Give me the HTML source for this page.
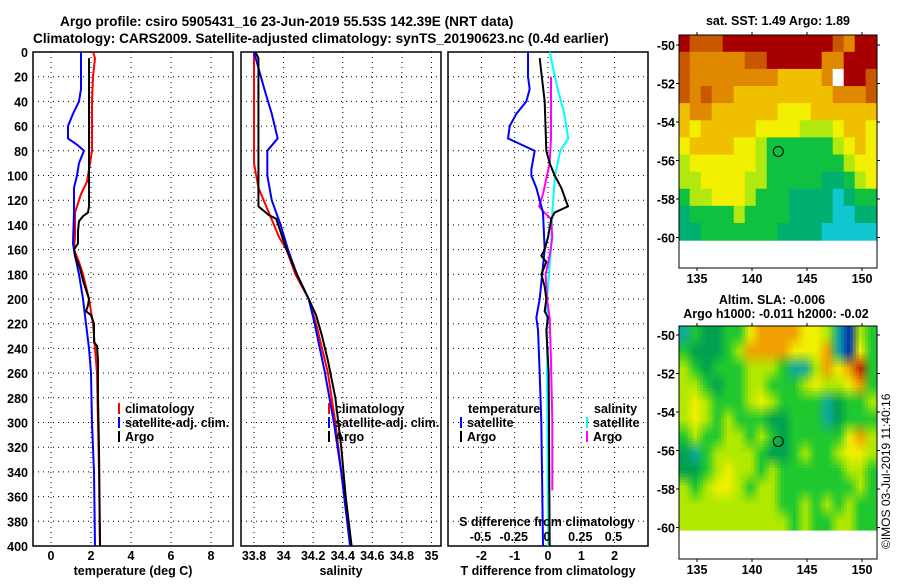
<!DOCTYPE html>
<html><head><meta charset="utf-8"><style>
body{margin:0;background:#fff;width:900px;height:580px;overflow:hidden}
svg text{font-family:"Liberation Sans",sans-serif;font-weight:bold;font-size:12.5px;fill:#000}
</style></head><body>
<svg id="c" width="900" height="580" xmlns="http://www.w3.org/2000/svg">
<text x="60" y="26" style="font-size:13.6px">Argo profile: csiro 5905431_16 23-Jun-2019 55.53S 142.39E (NRT data)</text>
<text x="33" y="43" style="font-size:13.6px">Climatology: CARS2009. Satellite-adjusted climatology: synTS_20190623.nc (0.4d earlier)</text>
<text x="778" y="25" text-anchor="middle">sat. SST: 1.49 Argo: 1.89</text>
<text x="772" y="304" text-anchor="middle">Altim. SLA: -0.006</text>
<text x="776" y="318" text-anchor="middle">Argo h1000: -0.011 h2000: -0.02</text>
<text transform="translate(890,549) rotate(-90)" style="font-weight:normal;font-size:12px">©IMOS 03-Jul-2019 11:40:16</text>
<g id="g"></g>
</svg>
<script>
// ---- data ----
const depthTicks=[0,20,40,60,80,100,120,140,160,180,200,220,240,260,280,300,320,340,360,380,400];
const tTicks=[0,2,4,6,8];
const sTicks=[33.8,34,34.2,34.4,34.6,34.8,35];
const tdTicks=[-2,-1,0,1,2];
const sdTicks=[-0.5,-0.25,0,0.25,0.5];
const tClimD=[0,5,20,40,80,95,105,115,130,150,160,170,180,200,220,240,260,300,340,400];
const tClimV=[2.1,2.2,2.1,2.05,2.05,1.9,1.8,1.5,1.2,1.2,1.15,1.4,1.6,1.9,2.1,2.2,2.3,2.35,2.4,2.45];
const tSatD=[0,30,40,50,60,70,75,80,90,100,110,130,155,165,180,200,220,240,260,300,340,400];
const tSatV=[1.5,1.5,1.4,1.1,0.85,0.85,1.3,1.65,1.4,1.3,1.15,1.15,1.1,1.2,1.4,1.6,1.75,1.9,2.0,2.05,2.15,2.2];
const tArgD=[5,125,130,133,137,145,155,160,165,175,185,195,200,205,210,213,220,235,238,250,280,320,400];
const tArgV=[1.9,1.9,1.85,1.6,1.4,1.35,1.35,1.15,1.2,1.45,1.6,1.8,1.9,1.85,1.75,2.0,2.15,2.15,2.3,2.35,2.35,2.4,2.45];
const sClimD=[0,90,110,130,150,160,180,200,220,260,300,340,400];
const sClimV=[33.80,33.80,33.83,33.9,33.97,34.02,34.08,34.17,34.22,34.3,34.35,34.39,34.45];
const sSatD=[0,30,50,70,80,100,120,140,160,180,200,220,260,300,340,400];
const sSatV=[33.8,33.87,33.92,33.96,33.89,33.89,33.92,33.98,34.03,34.09,34.17,34.21,34.28,34.34,34.39,34.45];
const sArgD=[0,5,125,132,135,160,180,200,213,230,250,280,320,360,400];
const sArgV=[33.81,33.83,33.83,33.9,33.95,34.02,34.09,34.17,34.22,34.26,34.3,34.35,34.39,34.42,34.46];
const dtSatD=[0,20,30,40,50,60,70,75,80,95,100,110,120,130,160,200,215,225,260,300,400];
const dtSatV=[-0.6,-0.6,-0.55,-0.65,-0.95,-1.15,-1.2,-0.8,-0.4,-0.5,-0.5,-0.35,-0.25,-0.15,-0.1,-0.25,-0.35,-0.3,-0.25,-0.2,-0.15];
const dtArgD=[5,40,80,90,100,110,125,130,135,150,160,165,170,180,190,200,210,215,225,260,400];
const dtArgV=[-0.25,-0.1,-0.05,0.05,0.2,0.4,0.6,0.2,0.1,0,-0.1,-0.2,-0.05,-0.2,-0.1,-0.05,-0.1,0,-0.05,0.02,0.05];
const dsSatD=[0,30,50,70,80,100,130,160,200,250,400];
const dsSatV=[0.02,0.08,0.13,0.16,0.1,0.06,0.04,0.03,0.0,0.0,0.01];
const dsArgD=[20,70,90,100,115,125,130,135,150,165,175,180,200,215,250,300,355];
const dsArgV=[0.03,0.03,0.02,0.0,-0.03,-0.06,-0.02,0.03,0.04,0.02,0.0,-0.01,0.0,0.02,0.03,0.04,0.04];
const sstGrid=[
"877788888888887688","766666778888866888","766666666555569887","767665555555556667",
"566555555444555555","545555544443334554","455554432222223454","344444432222222344",
"334444332222211234","233444322211110122","122223222211110011","112222222111100000"];
const slaGrid=[
"132233566665541043","322234666655561053","432333444311465673","443233443334544563",
"454333454333312334","454343332233312333","343344343233333564","213444432234334554",
"223454434333333443","434554344333333343","444444444334343433","444444444434334433"];
const sstColors=["#10c8d0","#00b070","#10c040","#b0e810","#f0f000","#f0c000","#e08800","#c85800","#a80000","#ffffff"];
const slaColors=["#0030b0","#10a8a0","#00a050","#20c830","#b0e800","#f0f000","#f0a000","#c02800"];
const profileLon=142.39, profileLat=-55.53;
// ---- helpers ----
const NS="http://www.w3.org/2000/svg";const G=document.getElementById('g');
function mk(t,a,p){const e=document.createElementNS(NS,t);for(const k in a)e.setAttribute(k,a[k]);(p||G).appendChild(e);return e;}
const yD=d=>52+d*494/400;
function panel(x0,name,xs,ticks,fmt,label,showDepth){
  const r=mk('rect',{x:x0,y:52,width:200,height:494,fill:'none',stroke:'#000','stroke-width':1.5});
  
  depthTicks.forEach(d=>{if(d>0&&d<400){const l=mk('line',{x1:x0,x2:x0+200,y1:yD(d),y2:yD(d),stroke:'#000','stroke-dasharray':'1,4'});}
    if(showDepth){const t=mk('text',{x:28,y:yD(d)+5,'text-anchor':'end'});t.textContent=d;}});
  ticks.forEach(v=>{const x=xs(v);if(x>x0+2&&x<x0+198){const l=mk('line',{x1:x,x2:x,y1:52,y2:546,stroke:'#000','stroke-dasharray':'1,4'});}
    const t=mk('text',{x:x,y:560,'text-anchor':'middle'});t.textContent=fmt(v);});
  const t=mk('text',{x:x0+100,y:575,'text-anchor':'middle'});t.textContent=label;
}
function line(D,V,xs,col,name,w){const p=mk('polyline',{points:D.map((d,i)=>xs(V[i])+','+yD(d)).join(' '),fill:'none',stroke:col,'stroke-width':w||2});}
function leg(x,y,col,txt,name){const l=mk('line',{x1:x,x2:x,y1:y-10,y2:y+1,stroke:col,'stroke-width':2});
  const t=mk('text',{x:x+6,y:y});t.textContent=txt;}
const xT=v=>51+20*v, xS=v=>254+(v-33.8)*147.9, xDT=v=>548+33.3*v, xDS=v=>547+133*v;
panel(33,'temperature',xT,tTicks,v=>v,'temperature (deg C)',true);
panel(241,'salinity',xS,sTicks,v=>v,'salinity',false);
panel(448,'t-difference',xDT,tdTicks,v=>v,'T difference from climatology',false);
line(tClimD,tClimV,xT,'#f00','temp-climatology-line');line(tSatD,tSatV,xT,'#00f','temp-satellite-line');line(tArgD,tArgV,xT,'#000','temp-argo-line');
line(sClimD,sClimV,xS,'#f00','sal-climatology-line');line(sSatD,sSatV,xS,'#00f','sal-satellite-line');line(sArgD,sArgV,xS,'#000','sal-argo-line');
line(dsSatD,dsSatV,xDS,'#0ff','sdiff-satellite-line');line(dsArgD,dsArgV,xDS,'#f0f','sdiff-argo-line');
line(dtSatD,dtSatV,xDT,'#00f','tdiff-satellite-line');line(dtArgD,dtArgV,xDT,'#000','tdiff-argo-line');
leg(119,413,'#f00','climatology','legend-climatology');leg(119,427,'#00f','satellite-adj. clim.','legend-satellite');leg(119,441,'#000','Argo','legend-argo');
leg(329,413,'#f00','climatology','legend-climatology-s');leg(329,427,'#00f','satellite-adj. clim.','legend-satellite-s');leg(329,441,'#000','Argo','legend-argo-s');
{const t=mk('text',{x:468,y:413});t.textContent='temperature';
 const s=mk('text',{x:594,y:413});s.textContent='salinity';}
leg(461,427,'#00f','satellite','legend-t-satellite');leg(461,441,'#000','Argo','legend-t-argo');
leg(587,427,'#0ff','satellite','legend-s-satellite');leg(587,441,'#f0f','Argo','legend-s-argo');
{const t=mk('text',{x:547,y:526,'text-anchor':'middle'});t.textContent='S difference from climatology';
 sdTicks.forEach(v=>{const q=mk('text',{x:xDS(v),y:541,'text-anchor':'middle'});q.textContent=v;});}
// maps
const defs=mk('defs',{});
const hex=h=>[parseInt(h.substr(1,2),16),parseInt(h.substr(3,2),16),parseInt(h.substr(5,2),16)];
function map(top,bot,lat50,grid,cols,name,smooth){
  const x0=679,x1=877,lon=v=>697+(v-135)*11,lat=v=>lat50+(-50-v)*19.25;
  const rows=grid.length, ncol=grid[0].length;
  const dataBot=lat(-60.15), w=(x1-x0)/ncol, h=(dataBot-top)/rows;
  const g=mk('g',{});
  
  if(!smooth){
    for(let r=0;r<rows;r++)for(let c=0;c<ncol;c++){
      const e=mk('rect',{x:x0+c*w-0.3,y:top+r*h-0.3,width:w+0.6,height:h+0.6,fill:cols[+grid[r][c]]},g);
      }
  } else {
    const rgb=(r,c)=>hex(cols[+grid[Math.min(rows-1,Math.max(0,r))][Math.min(ncol-1,Math.max(0,c))]]);
    const nx=Math.ceil((x1-x0)/3), ny=Math.ceil((dataBot-top)/3), sx=(x1-x0)/nx, sy=(dataBot-top)/ny;
    for(let j=0;j<ny;j++)for(let i=0;i<nx;i++){
      const fx=((i+0.5)*sx)/w-0.5, fy=((j+0.5)*sy)/h-0.5;
      const c0=Math.floor(fx), r0=Math.floor(fy), tx=fx-c0, ty=fy-r0;
      const a=rgb(r0,c0),b=rgb(r0,c0+1),cc=rgb(r0+1,c0),d=rgb(r0+1,c0+1);
      const col=[0,1,2].map(k=>Math.round((a[k]*(1-tx)+b[k]*tx)*(1-ty)+(cc[k]*(1-tx)+d[k]*tx)*ty));
      const e=mk('rect',{x:x0+i*sx-0.2,y:top+j*sy-0.2,width:sx+0.4,height:sy+0.4,fill:'rgb('+col.join(',')+')'},g);
      }
  }
  const f=mk('rect',{x:x0,y:top,width:x1-x0,height:bot-top,fill:'none',stroke:'#000','stroke-width':1});
  [-50,-52,-54,-56,-58,-60].forEach(v=>{const y=lat(v);mk('line',{x1:x0-3,x2:x0,y1:y,y2:y,stroke:'#000'});mk('line',{x1:x1,x2:x1+3,y1:y,y2:y,stroke:'#000'});
    const t=mk('text',{x:x0-4,y:y+5,'text-anchor':'end'});t.textContent=v;});
  [135,140,145,150].forEach(v=>{const x=lon(v);mk('line',{x1:x,x2:x,y1:bot,y2:bot+3,stroke:'#000'});mk('line',{x1:x,x2:x,y1:top-3,y2:top,stroke:'#000'});
    const t=mk('text',{x:x,y:bot+15,'text-anchor':'middle'});t.textContent=v;});
  const c=mk('circle',{cx:lon(profileLon),cy:lat(profileLat),r:5,fill:'none',stroke:'#000','stroke-width':1});
}
map(35,268,45,sstGrid,sstColors,'sst-map',false);
map(326,559,335,slaGrid,slaColors,'sla-map',true);
</script>
</body></html>
